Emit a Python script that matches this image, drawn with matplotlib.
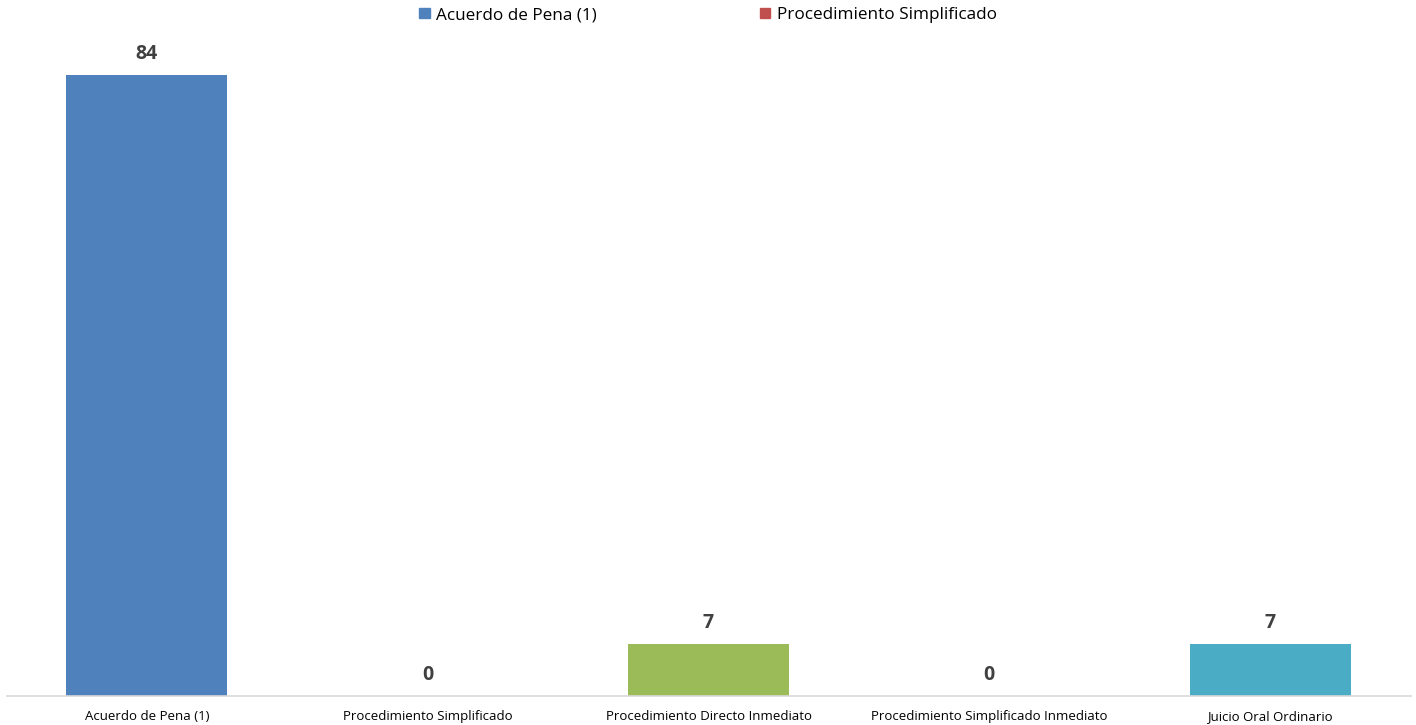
import numpy as np
import matplotlib.pyplot as plt
from matplotlib.patches import Patch

categories = ["Acuerdo de Pena (1)", "Procedimiento Simplificado", "Procedimiento Directo Inmediato",
              "Procedimiento Simplificado Inmediato", "Juicio Oral Ordinario"]
values = [84, 0, 7, 0, 7]
colors = ["#4F81BD", "#C0504D", "#9BBB59", "#8064A2", "#4BACC6"]
legend_labels = ["Acuerdo de Pena (1)", "Procedimiento Simplificado"]

plt.rcParams['font.family'] = ['Open Sans', 'DejaVu Sans']

fig = plt.figure(figsize=(14.16, 7.25), dpi=100)
ax = fig.add_axes([6.5 / 1416, 29 / 725, 1404 / 1416, 656 / 725])

x = np.arange(len(categories))
ax.bar(x, values, width=0.573, color=colors)
for xi, v in zip(x, values):
    ax.annotate(str(v), (xi, v), xytext=(0, 8), textcoords="offset points",
                ha="center", va="bottom", fontsize=14, fontweight="bold", color="#404040")

ax.set_xlim(-0.5, len(categories) - 0.5)
ax.set_ylim(0, 88.8)
ax.set_xticks(x)
ax.set_xticklabels(categories, fontsize=9.5, color="#000000")
ax.tick_params(axis="x", length=0, pad=10)
ax.set_yticks([])
for s in ["top", "right", "left"]:
    ax.spines[s].set_visible(False)
ax.spines["bottom"].set_color("#D9D9D9")
ax.spines["bottom"].set_linewidth(1.2)

handles = [Patch(color=colors[0]), Patch(color=colors[1])]
fig.legend(handles, legend_labels, loc="center", bbox_to_anchor=(0.5, 1 - 15 / 725), ncol=2,
           frameon=False, fontsize=12.3, handlelength=0.6, handleheight=0.6, handletextpad=0.4,
           columnspacing=9.5)

fig.savefig("out.png", dpi=100)
